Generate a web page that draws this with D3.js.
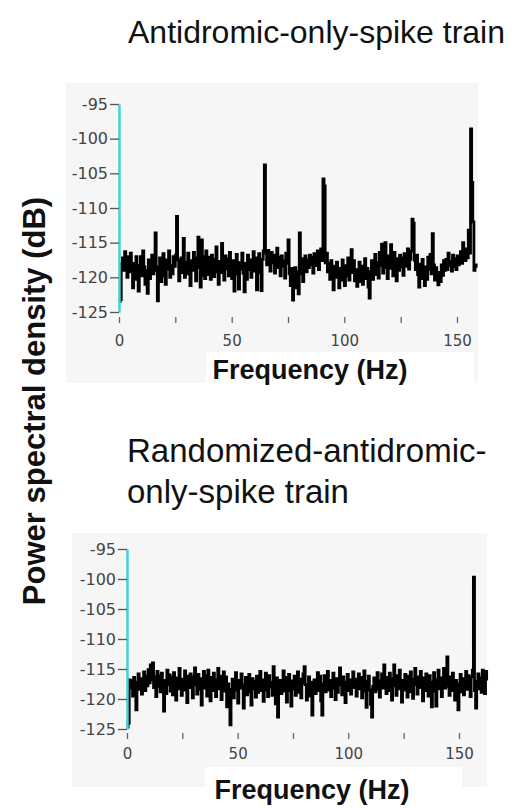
<!DOCTYPE html>
<html>
<head>
<meta charset="utf-8">
<script src="https://cdn.jsdelivr.net/npm/d3@7"></script>
<style>
  body { margin: 0; background: #fff; }
  svg { display: block; }
</style>
</head>
<body>
<svg class="chart" width="528" height="808"></svg>
<script>
// power spectra, one value every 0.5 Hz starting at 0 Hz
const binWidth = 0.5

const antidromicPsd = [
  -123.5, -123.2, -118, -117.2, -119, -116.3, -118.5, -120, -117, -119.2,
  -116.5, -118.8, -121.5, -118, -120.3, -117, -119.5, -122, -118.3, -117,
  -119.8, -116.2, -118.5, -121, -119, -122.3, -117.5, -120.2, -118, -116.8,
  -119.5, -117.8, -113.6, -119, -123.4, -118.5, -117.2, -120.6, -118, -116.6,
  -119.8, -121, -117.5, -118.8, -116.2, -120, -118.3, -119.5, -117, -118.4,
  -116.8, -111.2, -117.5, -120.5, -118, -117.2, -119.3, -114.4, -120, -117.8,
  -119.5, -116.5, -118.8, -121.2, -117.6, -119, -116.4, -118.7, -120.5, -117.2,
  -114.2, -118.6, -121.4, -114.6, -119.8, -117, -120.2, -116.2, -118.4, -119.6,
  -117.1, -120.3, -116.8, -118.5, -119.9, -117.4, -115.6, -119.2, -121, -117.7,
  -119.3, -115.1, -118.2, -120.4, -116.9, -118.8, -117.3, -119.8, -116.4, -118.5,
  -120.2, -117.6, -122, -118.3, -116.7, -119.5, -121.7, -117.9, -118.8, -116.5,
  -119.4, -122.1, -118, -120.3, -116.8, -118.9, -117.5, -120, -118.2, -116.3,
  -119.1, -117.2, -121.8, -118.1, -116.6, -119.3, -121.9, -117.4, -116.2, -103.8,
  -116.5, -118.2, -116.1, -117.8, -119.1, -116.4, -117.9, -116.8, -119.4, -117.3,
  -115.8, -118.6, -117.1, -119.8, -116.9, -118.4, -117.6, -120.1, -116.5, -118,
  -114.6, -119.5, -121.2, -118.7, -123.3, -120.1, -118.6, -121.5, -119.2, -122.4,
  -113.6, -119.5, -117.3, -120.6, -118, -116.9, -119.2, -117.5, -118.6, -116.8,
  -118.2, -117.1, -119.4, -116.6, -118.3, -117.7, -116.2, -118.9, -117.4, -115.9,
  -117.6, -105.8, -106.8, -117.9, -116.5, -119.2, -118, -120.3, -117.6, -119.5,
  -121.8, -118.4, -120, -117.8, -119.6, -121.5, -118.7, -120.4, -117.5, -119.1,
  -121.2, -118.3, -119.8, -117.2, -120.4, -118.6, -116, -119.3, -117.6, -120.5,
  -118.9, -121.3, -119.1, -117.8, -120.6, -118.4, -121, -119.5, -117.3, -120.2,
  -118.7, -121.4, -123, -119.2, -117.6, -120.3, -118.5, -116.7, -119.6, -117.9,
  -120.1, -116.4, -118.3, -115.2, -119.4, -117.1, -115, -118.6, -120.2, -116.9,
  -118.7, -115.3, -117.6, -119.8, -116.4, -118.2, -120.5, -117.3, -119, -116.8,
  -118.5, -117.2, -119.7, -116.6, -118.4, -117, -115.9, -118.8, -117.4, -116.2,
  -111.6, -112.2, -117.5, -118.9, -116.8, -119.6, -121.4, -118.1, -120.2, -117.4,
  -119.8, -121.2, -118.5, -120.3, -117.1, -118.8, -116.7, -119.5, -113.7, -118.2,
  -120.4, -118.6, -119.9, -121.1, -119.3, -120.6, -118.2, -119.7, -117.6, -119,
  -117.4, -118.9, -116.5, -118.3, -117.7, -119.1, -116.8, -118.5, -117.3, -118.9,
  -116.9, -118.2, -117.5, -116.3, -118, -115, -116.8, -117.6, -115.9, -117.2,
  -113.2, -116.5, -98.6, -106.3, -112, -119, -118.4, -118
]

const randomizedPsd = [
  -124.7, -124, -116.8, -118.2, -117, -119.5, -116.4, -118.8, -121.8, -117.2,
  -115.8, -118.4, -116.6, -119.2, -117.1, -115.5, -118.6, -116.2, -117.8, -115.1,
  -117.3, -114.3, -116.8, -114, -118.1, -116.3, -119.6, -115.4, -117.9, -116.1,
  -118.8, -115.7, -117.4, -122, -116.9, -119.1, -115.2, -117.6, -116, -118.7,
  -116.4, -119.3, -115.6, -117.7, -120.2, -116.5, -118.3, -114.9, -117.2, -119.4,
  -116.7, -118.5, -115.3, -117.9, -120.6, -116.2, -118.1, -115.8, -117.5, -119.8,
  -116.3, -114.8, -117.6, -119.2, -115.9, -118.4, -116.6, -121, -117.3, -115.4,
  -118.2, -116.1, -119.5, -115.2, -117.8, -120.3, -116.4, -118.6, -115.7, -117.1,
  -119.6, -116.8, -114.9, -118.3, -116.2, -120.1, -117.4, -115.5, -118.7, -116.3,
  -121.3, -117.5, -119.2, -124.3, -118.4, -116.7, -119.8, -117.3, -115.6, -118.5,
  -120.7, -116.9, -118.2, -115.8, -117.6, -121.5, -118.1, -116.4, -119.3, -117.2,
  -115.9, -118.8, -121, -116.6, -118.3, -117.1, -119.7, -116.2, -118.9, -117.5,
  -115.4, -118.6, -116.8, -120.4, -117.3, -115.7, -118.5, -119.6, -116.1, -118,
  -117.2, -119.4, -114.6, -117.9, -120.8, -116.5, -123, -118.4, -116.9, -119.1,
  -117.5, -115.3, -118.7, -116.4, -120.5, -117.8, -115.9, -118.6, -121.2, -117,
  -118.3, -116.2, -119.4, -117.1, -115.5, -118.9, -116.7, -119.8, -117.4, -115.8,
  -114.6, -117.6, -120.2, -118.1, -116.3, -119.5, -117.2, -122.7, -118.4, -116.8,
  -119.1, -117.4, -115.6, -118.6, -116.2, -120.3, -122.7, -117.5, -116.1, -118.8,
  -117.3, -115.4, -118.5, -116.9, -119.6, -117.8, -115.7, -118.2, -120.1, -116.6,
  -118.9, -117.1, -114.8, -117.7, -119.3, -116.3, -118.4, -120.6, -117.2, -115.9,
  -118.6, -116.8, -119.2, -117.4, -115.5, -118.1, -116.7, -119.5, -117, -115.8,
  -118.3, -116.4, -119.8, -117.6, -115.3, -118.7, -121.4, -117.1, -116.2, -118.5,
  -120.9, -123, -117.9, -116.5, -118.8, -117.2, -115.6, -118.4, -119.7, -117,
  -115.8, -118.2, -114.3, -117.5, -119.1, -116.4, -118.6, -115.7, -117.9, -120.2,
  -116.6, -114.3, -117.8, -119.4, -116.1, -118.3, -115.2, -117.6, -120.5, -116.9,
  -118.5, -115.9, -117.3, -119.7, -116.2, -118.8, -115.5, -117.4, -119.9, -116.7,
  -114.9, -117.6, -119.2, -116.3, -118.1, -115.4, -117.7, -120.3, -116.5, -118.6,
  -115.8, -117.9, -119.5, -116.1, -118.4, -121.3, -117.2, -115.6, -118.7, -121.2,
  -116.8, -115.2, -118.3, -116.5, -119.6, -117.1, -114.9, -118.2, -116.4, -113,
  -117.9, -119.4, -116.3, -118.6, -115.7, -117.4, -120.2, -116.9, -118.1, -121.8,
  -117.5, -115.9, -118.8, -116.6, -119.3, -117.2, -115.4, -118.4, -116.1, -117.8,
  -119.6, -116.3, -115.2, -99.7, -118.6, -121.5, -117.1, -115.8, -118.3, -116.5,
  -118.9, -115.2, -117.4, -119.1, -115.4, -116.9
]

const yTicks = [-95, -100, -105, -110, -115, -120, -125]
const xTicks = [0, 25, 50, 75, 100, 125, 150]
const xLabelTicks = [0, 50, 100, 150]

const topTitle = ['Antidromic-only-spike train']
const bottomTitle = ['Randomized-antidromic-', 'only-spike train']
const xLabel = 'Frequency (Hz)'
const yLabel = 'Power spectral density (dB)'

const font = '"Liberation Sans", Arial, sans-serif'
const tickFont = '"DejaVu Sans", Verdana, sans-serif'
const cyan = '#3fd3d6'

const svg = d3.select('.chart')

// panel layouts, roughly where the screenshot put each graph
const panels = [
  {
    values: antidromicPsd,
    title: topTitle, titleX: 128, titleY: [43], titleSize: 32,
    bg: [66, 83, 412, 300], labelBox: [206, 352, 268, 44],
    xRange: [119, 457], yRange: [312, 104], axisY: 317, labelGap: 12,
    xLabelX: 310, xLabelY: 379
  },
  {
    values: randomizedPsd,
    title: bottomTitle, titleX: 127, titleY: [462, 503], titleSize: 33,
    bg: [72, 533, 415, 254], labelBox: [205, 767, 257, 41],
    xRange: [127, 459], yRange: [729, 549], axisY: 733, labelGap: 9,
    xLabelX: 312, xLabelY: 799
  }
]

const drawPanel = (p) => {
  const g = svg.append('g')

  // grey backdrop with the white patch the x label sits on
  g.append('rect')
    .attr('x', p.bg[0]).attr('y', p.bg[1])
    .attr('width', p.bg[2]).attr('height', p.bg[3])
    .attr('fill', '#f6f6f6')
  g.append('rect')
    .attr('x', p.labelBox[0]).attr('y', p.labelBox[1])
    .attr('width', p.labelBox[2]).attr('height', p.labelBox[3])
    .attr('fill', '#fff')

  const x = d3.scaleLinear().domain([0, 150]).range(p.xRange)
  const y = d3.scaleLinear().domain([-125, -95]).range(p.yRange)

  // the spectrum itself
  const line = d3.line()
    .x((d, i) => x(i * binWidth))
    .y((d) => y(d))
    .curve(d3.curveStepAfter)
  g.append('path')
    .datum(p.values)
    .attr('d', line)
    .attr('fill', 'none')
    .attr('stroke', '#000')
    .attr('stroke-width', 2.8)

  // x ticks without a baseline, labels only every 50 Hz
  g.append('g')
    .attr('transform', `translate(0,${p.axisY})`)
    .call(
      d3.axisBottom(x)
        .tickValues(xTicks)
        .tickSize(6)
        .tickPadding(p.labelGap)
        .tickFormat((d) => (xLabelTicks.includes(d) ? String(d) : ''))
    )
    .call((a) => a.select('.domain').remove())
    .call((a) => a.selectAll('.tick line').attr('stroke', '#666').attr('stroke-width', 1.3))
    .call((a) =>
      a.selectAll('.tick text')
        .attr('fill', '#444')
        .style('font-family', tickFont)
        .style('font-size', '15px')
    )

  // y axis, the cyan spine drawn on top of the trace
  // plain hyphen for the minus sign like the original software
  g.append('g')
    .attr('transform', `translate(${x(0)},0)`)
    .call(
      d3.axisLeft(y)
        .tickValues(yTicks)
        .tickSize(9)
        .tickSizeOuter(0)
        .tickPadding(2)
        .tickFormat((d) => String(d))
    )
    .call((a) => a.select('.domain').attr('stroke', cyan).attr('stroke-width', 2.5))
    .call((a) => a.selectAll('.tick line').attr('stroke', '#555').attr('stroke-width', 1.3))
    .call((a) =>
      a.selectAll('.tick text')
        .attr('fill', '#444')
        .style('font-family', tickFont)
        .style('font-size', '16px')
    )

  // titles and x label
  p.title.forEach((t, i) => {
    g.append('text')
      .attr('x', p.titleX)
      .attr('y', p.titleY[i])
      .style('font-family', font)
      .style('font-size', p.titleSize + 'px')
      .attr('fill', '#111')
      .text(t)
  })
  g.append('text')
    .attr('x', p.xLabelX)
    .attr('y', p.xLabelY)
    .attr('text-anchor', 'middle')
    .style('font-family', font)
    .style('font-size', '27px')
    .style('font-weight', 'bold')
    .attr('fill', '#111')
    .text(xLabel)
}

panels.forEach(drawPanel)

// shared y label down the left side
svg.append('text')
  .attr('transform', 'translate(45,401) rotate(-90)')
  .attr('text-anchor', 'middle')
  .style('font-family', font)
  .style('font-size', '31px')
  .style('font-weight', 'bold')
  .attr('fill', '#111')
  .text(yLabel)
</script>
</body>
</html>
